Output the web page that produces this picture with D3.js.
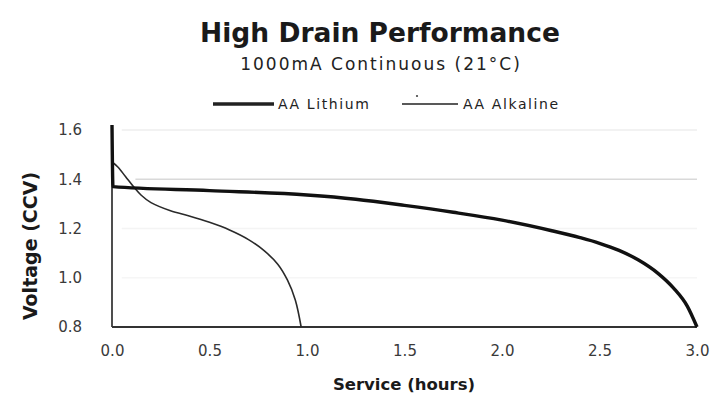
<!DOCTYPE html>
<html>
<head>
<meta charset="utf-8">
<script src="https://cdn.jsdelivr.net/npm/d3@7"></script>
<style>
  html, body { margin: 0; padding: 0; background: #fff; }
  svg { display: block; font-family: "DejaVu Sans", Verdana, sans-serif; }
</style>
</head>
<body>
<svg id="chart" width="719" height="397"></svg>
<script>
// Service time in hours vs closed-circuit voltage, 1000 mA continuous drain
const lithiumHours   = [0, 0.005, 0.5, 1.0, 1.25, 1.5, 1.75, 2.0, 2.25, 2.4, 2.5, 2.6, 2.7, 2.8, 2.88, 2.95, 3.0];
const lithiumVolts   = [1.62, 1.37, 1.354, 1.336, 1.319, 1.294, 1.266, 1.234, 1.192, 1.163, 1.14, 1.111, 1.072, 1.018, 0.958, 0.885, 0.80];
const alkalineHours  = [0, 0.03, 0.07, 0.11, 0.15, 0.2, 0.3, 0.4, 0.5, 0.6, 0.7, 0.78, 0.85, 0.9, 0.94, 0.97];
const alkalineVolts  = [1.47, 1.45, 1.41, 1.37, 1.335, 1.305, 1.272, 1.25, 1.225, 1.195, 1.155, 1.11, 1.055, 0.99, 0.91, 0.80];
const xTicks = [0, 0.5, 1.0, 1.5, 2.0, 2.5, 3.0];
const yTicks = [0.8, 1.0, 1.2, 1.4, 1.6];
const seriesNames = ["AA Lithium", "AA Alkaline"];

const svg = d3.select("#chart");
const x = d3.scaleLinear().domain([0, 3]).range([112, 697]);
const y = d3.scaleLinear().domain([0.8, 1.6]).range([327, 130]);

// faint horizontal gridlines
const gridColor = {1.0: "#f6f6f6", 1.2: "#f4f4f4", 1.4: "#d9d9d9", 1.6: "#eeeeee"};
svg.append("g").selectAll("line")
  .data(yTicks.filter(v => v > 0.8))
  .join("line")
  .attr("x1", v => v === 1.4 ? x(0.12) : x(0.05)).attr("x2", x(3))
  .attr("y1", v => y(v)).attr("y2", v => y(v))
  .attr("stroke", v => gridColor[v]).attr("stroke-width", 1.5);

// axes
const xAxis = d3.axisBottom(x).tickValues(xTicks).tickFormat(d3.format(".1f")).tickSize(0).tickPadding(18);
const yAxis = d3.axisLeft(y).tickValues(yTicks).tickFormat(d3.format(".1f")).tickSize(0).tickPadding(30);

const gx = svg.append("g").attr("transform", `translate(0,${y(0.8)})`).call(xAxis);
gx.select(".domain").remove();
gx.selectAll("text").attr("font-size", 15).attr("fill", "#3a3a3a").attr("font-family", "DejaVu Sans");

const gy = svg.append("g").attr("transform", `translate(${x(0)},0)`).call(yAxis);
gy.select(".domain").remove();
gy.selectAll("text").attr("font-size", 15).attr("fill", "#3a3a3a").attr("font-family", "DejaVu Sans");

svg.append("line")
  .attr("x1", x(0)).attr("x2", x(0)).attr("y1", y(1.6)).attr("y2", y(0.8))
  .attr("stroke", "#222").attr("stroke-width", 1.6);
svg.append("line")
  .attr("x1", x(0)).attr("x2", x(3)).attr("y1", y(0.8)).attr("y2", y(0.8))
  .attr("stroke", "#333").attr("stroke-width", 2);

// curves: lithium keeps its sharp start-up spike, alkaline is a smooth spline
const lithiumLine = d3.line().x(d => x(d[0])).y(d => y(d[1])).curve(d3.curveMonotoneX);
const alkalineLine = d3.line().x(d => x(d[0])).y(d => y(d[1])).curve(d3.curveCatmullRom.alpha(0.5));
const lithium = lithiumHours.map((h, i) => [h, lithiumVolts[i]]);
const alkaline = alkalineHours.map((h, i) => [h, alkalineVolts[i]]);

svg.append("path").datum(alkaline).attr("d", alkalineLine)
  .attr("fill", "none").attr("stroke", "#2a2a2a").attr("stroke-width", 1.6);
svg.append("path").datum(lithium).attr("d", lithiumLine)
  .attr("fill", "none").attr("stroke", "#111").attr("stroke-width", 3.4)
  .attr("stroke-linejoin", "round");

// titles
svg.append("text").attr("x", 380).attr("y", 42).attr("text-anchor", "middle")
  .attr("font-size", 26.5).attr("font-weight", "bold").attr("fill", "#1a1a1a")
  .text("High Drain Performance");
svg.append("text").attr("x", 381).attr("y", 70).attr("text-anchor", "middle")
  .attr("font-size", 17).attr("fill", "#222").attr("letter-spacing", 2)
  .text("1000mA Continuous (21°C)");

// legend
const legend = svg.append("g");
const legendItems = [
  {name: seriesNames[0], x1: 213, x2: 274, w: 3.4, tx: 278},
  {name: seriesNames[1], x1: 402, x2: 458, w: 1.3, tx: 463}
];
legendItems.forEach(d => {
  legend.append("line").attr("x1", d.x1).attr("x2", d.x2).attr("y1", 104).attr("y2", 104)
    .attr("stroke", "#222").attr("stroke-width", d.w);
  legend.append("text").attr("x", d.tx).attr("y", 109).attr("font-size", 14)
    .attr("fill", "#222").attr("letter-spacing", 1.6).text(d.name);
});
legend.append("circle").attr("cx", 417).attr("cy", 96).attr("r", 1.1).attr("fill", "#444");

// axis titles
svg.append("text").attr("x", 404).attr("y", 390).attr("text-anchor", "middle")
  .attr("font-size", 16.5).attr("font-weight", "bold").attr("fill", "#1a1a1a")
  .text("Service (hours)");
svg.append("text").attr("transform", "translate(37,246) rotate(-90)").attr("text-anchor", "middle")
  .attr("font-size", 19).attr("font-weight", "bold").attr("fill", "#1a1a1a")
  .text("Voltage (CCV)");
</script>
</body>
</html>
